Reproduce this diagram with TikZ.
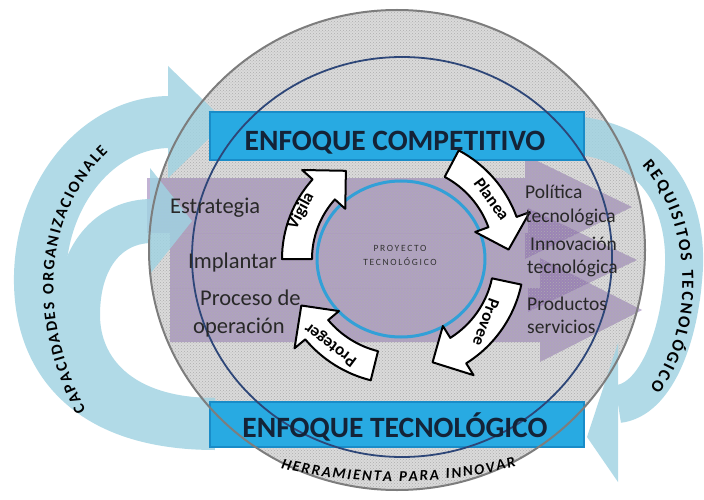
\documentclass[tikz,border=0pt]{standalone}
\usepackage{fontspec}
\setmainfont{Carlito}
\newfontfamily\widefont[LetterSpace=18]{Carlito}
\usetikzlibrary{patterns,decorations.text}
\definecolor{lblue}{RGB}{160,211,226}
\definecolor{barblue}{RGB}{40,170,226}
\definecolor{baredge}{RGB}{25,140,200}
\definecolor{navy}{RGB}{45,70,120}
\definecolor{cblue}{RGB}{50,160,215}
\definecolor{purp}{RGB}{135,105,170}
\definecolor{txt}{RGB}{40,40,40}
\definecolor{circgray}{RGB}{218,218,218}
\definecolor{edgegray}{RGB}{125,125,125}
\tikzset{
  lt/.style={font=\fontsize{22.5}{26}\selectfont, text=txt, anchor=base west, inner sep=0pt},
  rt/.style={font=\fontsize{19.5}{22}\selectfont, text=txt, anchor=base west, inner sep=0pt},
  bartext/.style={font=\bfseries\fontsize{29.5}{33}\selectfont, text={rgb,255:red,20;green,35;blue,55}, anchor=base, inner sep=0pt},
  barbox/.style={fill=barblue, draw=baredge, line width=1.5pt},
  warr/.style={draw=black, fill=white, line width=2pt, line join=round},
  arrlab/.style={font=\bfseries\fontsize{17}{19}\selectfont, text=black, inner sep=0pt},
  parrow/.style={fill=purp, opacity=0.5},
}
\newcommand{\wArrow}[4]{%
  \pgfmathsetmacro{\rOut}{#1+15}\pgfmathsetmacro{\rIn}{#1-15}%
  \pgfmathsetmacro{\rHo}{#1+29}\pgfmathsetmacro{\rHi}{#1-29}%
  \draw[warr] (#2:\rOut) arc[start angle=#2, end angle=#3, radius=\rOut] -- (#3:\rHo) -- (#4:#1) -- (#3:\rHi) -- (#3:\rIn) arc[start angle=#3, end angle=#2, radius=\rIn] -- cycle;}
\begin{document}
\begin{tikzpicture}[x=1pt,y=-1pt]
\useasboundingbox (0,0) rectangle (704,500);
\fill[white] (0,0) rectangle (704,500);
% outer disc
\fill[circgray] (397,250) ellipse [x radius=248, y radius=240];
% purple arrows
\fill[parrow] (147,178) -- (525,178) -- (525,155) -- (632,207) -- (525,259) -- (525,233) -- (147,233) -- cycle;
\fill[parrow] (170,233) -- (528,233) -- (528,208) -- (637,260) -- (528,312) -- (528,288) -- (170,288) -- cycle;
\fill[parrow] (170,288) -- (540,288) -- (540,258) -- (642,310) -- (540,362) -- (540,342) -- (170,342) -- cycle;
% dotted texture
\fill[pattern=crosshatch dots, pattern color=black!32] (397,250) ellipse [x radius=248, y radius=240];
% light blue arcs
\begin{scope}[transparency group, opacity=0.82]
  \draw[lblue, line width=52pt] (215,424) .. controls (90,424) and (38,360) .. (40,275) .. controls (42,190) and (100,122) .. (170,122);
  \fill[lblue] (168,66) -- (226,122) -- (168,178) -- cycle;
  \draw[lblue, line width=44pt] (215,420) .. controls (120,420) and (78,370) .. (78,315) .. controls (78,255) and (110,221) .. (152,221);
  \fill[lblue] (150,168) -- (192,221) -- (150,274) -- cycle;
  \draw[lblue, line width=38pt] (582,136) .. controls (665,148) and (690,215) .. (683,280) .. controls (678,340) and (655,400) .. (618,404);
  \fill[lblue] (618,343) -- (587,437) -- (618,482) -- cycle;
\end{scope}
% bars
\node[barbox, minimum width=374pt, minimum height=48pt, inner sep=0pt] (topbar) at (397,136) {};
\node[barbox, minimum width=374pt, minimum height=45pt, inner sep=0pt] (botbar) at (397,424.5) {};
% circle outlines
\draw[edgegray, line width=2pt] (397,250) ellipse [x radius=248, y radius=240];
\draw[navy, line width=1.8pt] (402,257) ellipse [x radius=210, y radius=200];
\draw[cblue, line width=3pt] (401,259) ellipse [x radius=84, y radius=78];
% white curved arrows
\begin{scope}[shift={(401,259)}]
  \wArrow{104}{180}{222}{238}
  \wArrow{108}{298}{340}{355}
  \wArrow{108}{12}{58}{73}
  \wArrow{110}{104}{140}{155}
\end{scope}
\node[arrlab, rotate=62] (vig) at (301,211) {Vigila};
\node[arrlab, rotate=-54] (pla) at (492,199) {Planea};
\node[arrlab, rotate=-110] (pro) at (486,322) {Provee};
\node[arrlab, rotate=143] (prt) at (331,344) {Proteger};
% bar texts
\node[bartext] (tcomp) at (395,150) {ENFOQUE COMPETITIVO};
\node[bartext] (ttec) at (395,437) {ENFOQUE TECNOLÓGICO};
% center text
\node[font=\widefont\fontsize{9.5}{14}\selectfont, text=black!80, align=center, inner sep=0pt] (proj) at (400,255) {PROYECTO\\TECNOLÓGICO};
% left texts
\node[lt] (estr) at (170,213) {Estrategia};
\node[lt] (impl) at (188,268) {Implantar};
\node[lt] (proc) at (200,305) {Proceso de};
\node[lt] (oper) at (193,333) {operación};
% right texts
\node[rt] (pol1) at (525,198) {Política};
\node[rt] (pol2) at (525,222) {tecnológica};
\node[rt] (inn1) at (530,250) {Innovación};
\node[rt] (inn2) at (527,273) {tecnológica};
\node[rt] (prd1) at (527,310) {Productos};
\node[rt] (prd2) at (527,333) {servicios};
% curved texts
\path[decorate, decoration={text along path, text align=fit to path, text={|\bfseries\fontsize{16}{18}\selectfont|CAPACIDADES ORGANIZACIONALE}}] (86,410) .. controls (45,335) and (33,225) .. (108,152);
\path[decorate, decoration={text along path, text align=fit to path, text={|\bfseries\fontsize{17}{19}\selectfont|REQUISITOS TECNOLÓGICO}}] (642,166) .. controls (688,215) and (700,320) .. (650,388);
\path[decorate, decoration={text along path, text align=fit to path, text={|\bfseries\itshape\fontsize{15}{17}\selectfont|HERRAMIENTA PARA INNOVAR}}] (281,468) .. controls (350,486) and (450,486) .. (516,466);
\end{tikzpicture}
\end{document}
